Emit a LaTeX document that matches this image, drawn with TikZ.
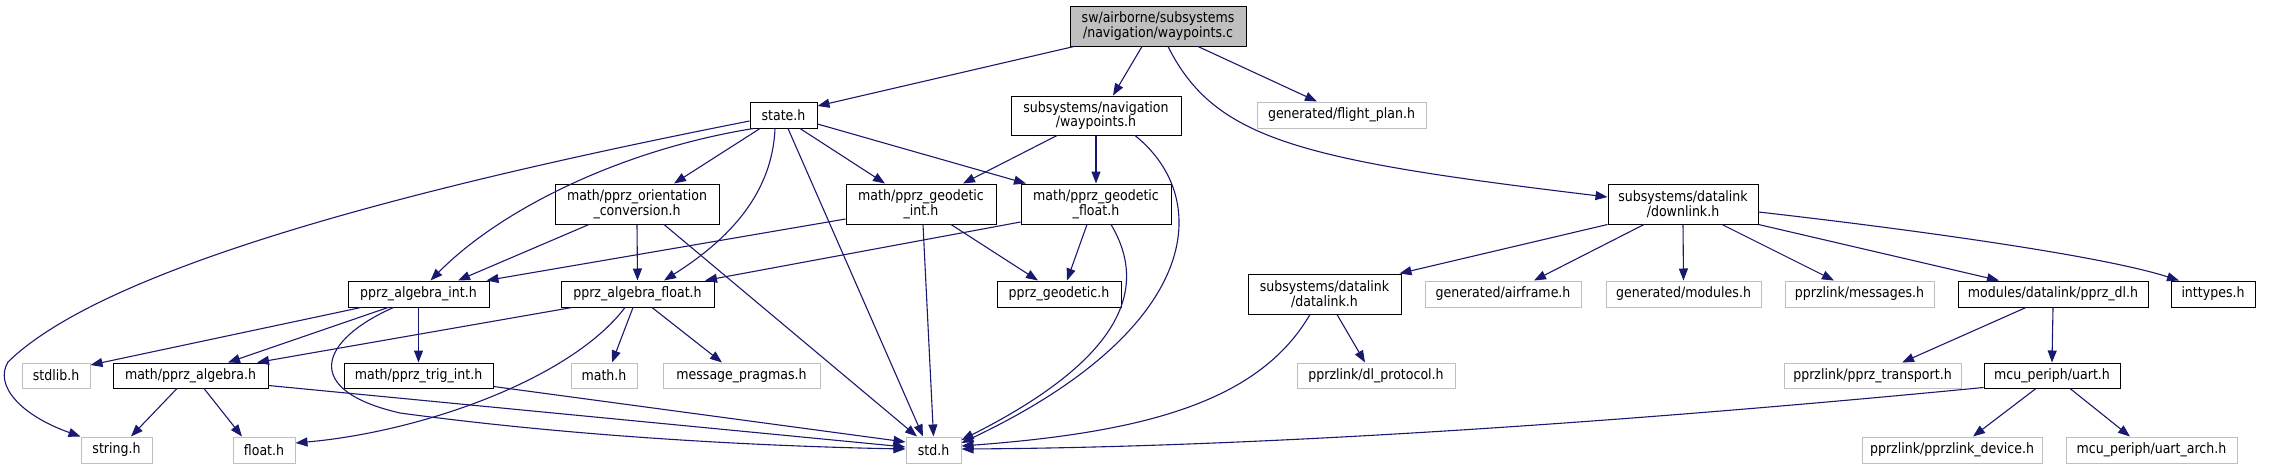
\documentclass[tikz,border=0pt]{standalone}
\usepackage{fontspec}
\setmainfont{DejaVu Sans}[FakeStretch=0.88]
\usetikzlibrary{arrows.meta}
\definecolor{edgec}{HTML}{191970}
\definecolor{greyb}{HTML}{BFBFBF}
\begin{document}
\begin{tikzpicture}[x=1pt,y=-1pt,
  nbox/.style={draw=black,line width=1pt,inner sep=0pt,align=center,
    font=\fontsize{14.3}{14.6}\selectfont,text=black},
  gbox/.style={nbox,draw=greyb},
  rootbox/.style={nbox,fill=greyb},
  e/.style={draw=edgec,line width=1.1pt,-{Triangle[length=12pt,width=9pt]}}]
\useasboundingbox (0,0) rectangle (2276,469);
% nodes
\node[rootbox,minimum width=176pt,minimum height=40pt] (wc) at (1158,26) {sw/airborne/subsystems\\/navigation/waypoints.c};
\node[nbox,minimum width=67pt,minimum height=26pt] (state) at (783.5,115) {state.h};
\node[nbox,minimum width=170pt,minimum height=39pt] (wh) at (1096,115.5) {subsystems/navigation\\/waypoints.h};
\node[gbox,minimum width=169pt,minimum height=26pt] (fp) at (1341.5,115) {generated/flight\_plan.h};
\node[nbox,minimum width=150pt,minimum height=40pt] (dl) at (1683,204) {subsystems/datalink\\/downlink.h};
\node[nbox,minimum width=164pt,minimum height=40pt] (oc) at (637,204) {math/pprz\_orientation\\\_conversion.h};
\node[nbox,minimum width=150pt,minimum height=40pt] (gi) at (921,204) {math/pprz\_geodetic\\\_int.h};
\node[nbox,minimum width=150pt,minimum height=40pt] (gf) at (1096,204) {math/pprz\_geodetic\\\_float.h};
\node[nbox,minimum width=141pt,minimum height=26pt] (ai) at (418.5,294) {pprz\_algebra\_int.h};
\node[nbox,minimum width=153pt,minimum height=26pt] (af) at (637.5,294) {pprz\_algebra\_float.h};
\node[nbox,minimum width=124pt,minimum height=26pt] (pg) at (1059,294) {pprz\_geodetic.h};
\node[nbox,minimum width=153pt,minimum height=40pt] (dtl) at (1324.5,294) {subsystems/datalink\\/datalink.h};
\node[gbox,minimum width=156pt,minimum height=26pt] (air) at (1503,294) {generated/airframe.h};
\node[gbox,minimum width=155pt,minimum height=26pt] (mod) at (1683.5,294) {generated/modules.h};
\node[gbox,minimum width=149pt,minimum height=26pt] (msg) at (1859.5,294) {pprzlink/messages.h};
\node[nbox,minimum width=190pt,minimum height=26pt] (pdl) at (2053,294) {modules/datalink/pprz\_dl.h};
\node[nbox,minimum width=84pt,minimum height=26pt] (int) at (2213,294) {inttypes.h};
\node[gbox,minimum width=68pt,minimum height=25pt] (stdlib) at (56,375.5) {stdlib.h};
\node[nbox,minimum width=155pt,minimum height=25pt] (pa) at (190.5,375.5) {math/pprz\_algebra.h};
\node[nbox,minimum width=149pt,minimum height=25pt] (ti) at (418.5,375.5) {math/pprz\_trig\_int.h};
\node[gbox,minimum width=66pt,minimum height=25pt] (math) at (604,375.5) {math.h};
\node[gbox,minimum width=157pt,minimum height=25pt] (mp) at (741.5,375.5) {message\_pragmas.h};
\node[gbox,minimum width=158pt,minimum height=25pt] (dlp) at (1376,375.5) {pprzlink/dl\_protocol.h};
\node[gbox,minimum width=177pt,minimum height=25pt] (pt) at (1872.5,375.5) {pprzlink/pprz\_transport.h};
\node[nbox,minimum width=136pt,minimum height=25pt] (uart) at (2052,375.5) {mcu\_periph/uart.h};
\node[gbox,minimum width=71pt,minimum height=26pt] (str) at (116.5,450) {string.h};
\node[gbox,minimum width=62pt,minimum height=26pt] (flt) at (264,450) {float.h};
\node[gbox,minimum width=55pt,minimum height=26pt] (std) at (933.5,450) {std.h};
\node[gbox,minimum width=180pt,minimum height=26pt] (pld) at (1952,450) {pprzlink/pprzlink\_device.h};
\node[gbox,minimum width=171pt,minimum height=26pt] (ua) at (2151.5,450) {mcu\_periph/uart\_arch.h};
% edges from waypoints.c
\draw[e] ([xshift=-84pt]wc.south) -- ([yshift=9pt]state.east);
\draw[e] ([xshift=-16pt]wc.south) -- ([xshift=17pt]wh.north);
\draw[e] ([xshift=40pt]wc.south) -- ([xshift=-24.5pt]fp.north);
\draw[e] ([xshift=10pt]wc.south) .. controls (1215,140) and (1300,160) .. ([yshift=7pt]dl.west);
% state.h
\draw[e] ([xshift=-23.5pt]state.south) -- ([xshift=37pt]oc.north);
\draw[e] ([xshift=16.5pt]state.south) -- ([xshift=-36pt]gi.north);
\draw[e] ([yshift=-9pt]state.east) -- ([xshift=-70pt]gf.north);
\draw[e] ([xshift=4pt]state.south west) .. controls (620,150) and (500,210) .. ([xshift=12pt]ai.north);
\draw[e] ([xshift=-8.5pt]state.south) .. controls (772,200) and (720,245) .. ([xshift=26.5pt]af.north);
\draw[e] ([xshift=4.5pt]state.south) -- ([xshift=-10.5pt]std.north);
\draw[e] ([yshift=-6pt]state.west) .. controls (450,180) and (110,262) .. (8,362) .. controls (-6,385) and (20,415) .. ([xshift=-36pt]str.north);
% waypoints.h
\draw[e] ([xshift=-39pt]wh.south) -- ([xshift=42pt]gi.north);
\draw[e] (wh.south) -- (gf.north);
\draw[e] ([xshift=39pt]wh.south) .. controls (1215,200) and (1200,330) .. ([yshift=7pt]std.east);
% orientation conversion
\draw[e] ([xshift=-48pt]oc.south) -- ([xshift=39.5pt]ai.north);
\draw[e] (oc.south) -- (af.north);
\draw[e] ([xshift=27pt]oc.south) -- ([xshift=-16.5pt]std.north);
% geodetic int
\draw[e] ([yshift=-15pt]gi.west) -- ([xshift=-3pt]ai.north east);
\draw[e] ([xshift=30pt]gi.south) -- ([xshift=-21pt]pg.north);
\draw[e] ([xshift=2pt]gi.south) -- (std.north);
% geodetic float
\draw[e] ([yshift=-18pt]gf.west) -- ([xshift=67.5pt]af.north);
\draw[e] ([xshift=-9pt]gf.south) -- ([xshift=8pt]pg.north);
\draw[e] ([xshift=15pt]gf.south) .. controls (1150,290) and (1120,360) .. ([yshift=10pt]std.east);
% algebra int
\draw[e] ([xshift=-57.5pt]ai.south) -- ([yshift=10.5pt]stdlib.east);
\draw[e] ([xshift=-30.5pt]ai.south) -- ([xshift=37.5pt]pa.north);
\draw[e] (ai.south) -- (ti.north);
\draw[e] ([xshift=-25pt]ai.south) .. controls (320,340) and (300,390) .. (400,413) .. controls (600,440) and (800,447) .. ([yshift=1pt]std.west);
% algebra float
\draw[e] ([xshift=-65.5pt]af.south) -- ([xshift=66.5pt]pa.north);
\draw[e] ([xshift=-4.5pt]af.south) -- ([xshift=8pt]math.north);
\draw[e] ([xshift=14.5pt]af.south) -- ([xshift=-19.5pt]mp.north);
\draw[e] ([xshift=-12.5pt]af.south) .. controls (570,380) and (420,432) .. ([yshift=7pt]flt.east);
% pprz_algebra
\draw[e] ([xshift=-13.5pt]pa.south) -- ([xshift=14.5pt]str.north);
\draw[e] ([xshift=13.5pt]pa.south) -- ([xshift=-22pt]flt.north);
\draw[e] ([yshift=-10pt]pa.east) -- ([yshift=3pt]std.west);
% trig int
\draw[e] ([yshift=-11pt]ti.east) -- ([yshift=8pt]std.west);
% downlink
\draw[e] (dl.south west) -- ([xshift=-2pt]dtl.north east);
\draw[e] ([xshift=-39pt]dl.south) -- ([xshift=31pt]air.north);
\draw[e] (dl.south) -- (mod.north);
\draw[e] ([xshift=39pt]dl.south) -- ([xshift=-25.5pt]msg.north);
\draw[e] (dl.south east) -- ([xshift=-54pt]pdl.north);
\draw[e] ([yshift=-8pt]dl.east) .. controls (1900,228) and (2100,255) .. ([xshift=-34pt]int.north);
% datalink
\draw[e] ([xshift=12.5pt]dtl.south) -- ([xshift=-11pt]dlp.north);
\draw[e] ([xshift=-14.5pt]dtl.south) .. controls (1260,400) and (1150,432) .. ([yshift=4pt]std.east);
% pprz_dl
\draw[e] ([xshift=-27pt]pdl.south) -- ([xshift=29.5pt]pt.north);
\draw[e] (pdl.south) -- (uart.north);
% uart
\draw[e] ([yshift=-12pt]uart.west) .. controls (1700,415) and (1300,447) .. ([yshift=1pt]std.east);
\draw[e] ([xshift=-16pt]uart.south) -- ([xshift=21pt]pld.north);
\draw[e] ([xshift=18pt]uart.south) -- ([xshift=-21.5pt]ua.north);
\end{tikzpicture}
\end{document}
